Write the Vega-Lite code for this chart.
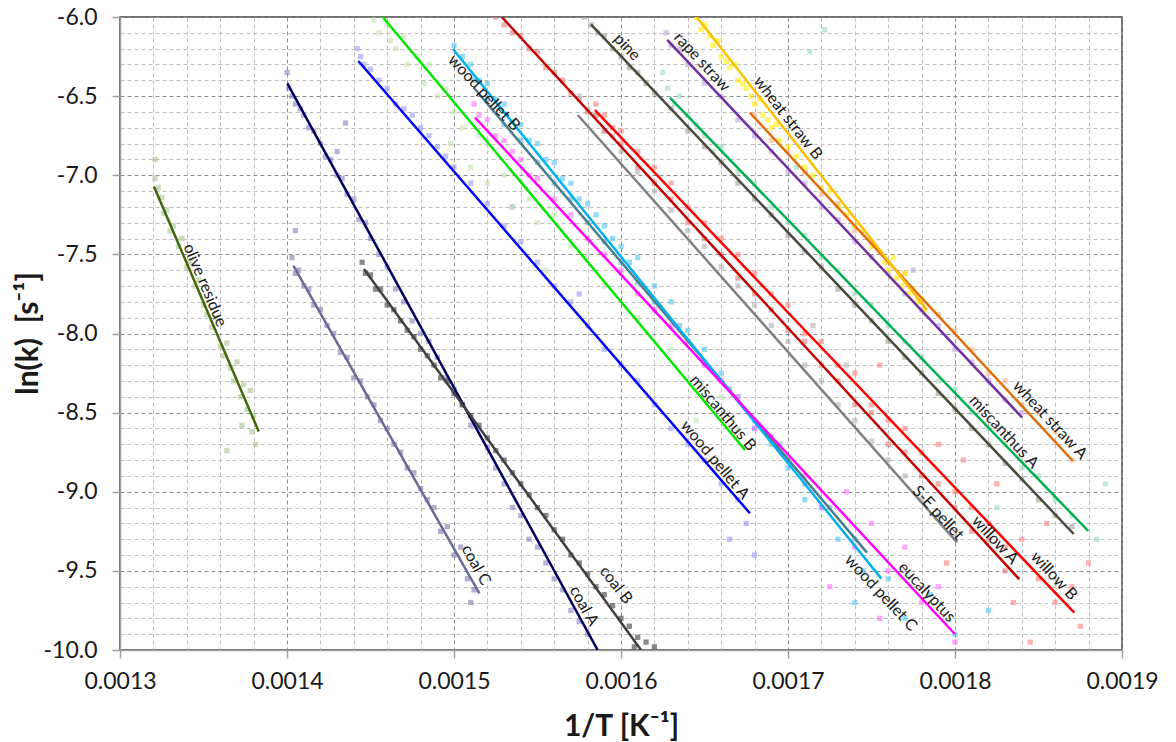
{
"$schema":"https://vega.github.io/schema/vega-lite/v6.json",
"width":1002,"height":633,
"autosize":{"type":"none"},
"padding":{"left":120,"top":17,"right":54,"bottom":92},
"background":"white",
"config":{"view":{"stroke":"#404040","strokeWidth":1.5},"font":"Lato"},
"datasets":{
"lines":[
{"s":"olive residue","x":0.0013204,"y":-7.072},{"s":"olive residue","x":0.0013831,"y":-8.62},
{"s":"coal A","x":0.0014002,"y":-6.419},{"s":"coal A","x":0.001586,"y":-10.0},
{"s":"coal B","x":0.0014461,"y":-7.592},{"s":"coal B","x":0.001612,"y":-10.0},
{"s":"coal C","x":0.0014038,"y":-7.571},{"s":"coal C","x":0.0015152,"y":-9.642},
{"s":"wood pellet A","x":0.0014427,"y":-6.278},{"s":"wood pellet A","x":0.0016772,"y":-9.136},
{"s":"miscanthus B","x":0.0014573,"y":-6.0},{"s":"miscanthus B","x":0.0016743,"y":-8.736},
{"s":"wood pellet B","x":0.001512,"y":-6.449},{"s":"wood pellet B","x":0.0017473,"y":-9.385},
{"s":"wood pellet C","x":0.0014994,"y":-6.202},{"s":"wood pellet C","x":0.0017559,"y":-9.549},
{"s":"eucalyptus","x":0.0015126,"y":-6.636},{"s":"eucalyptus","x":0.0017999,"y":-9.899},
{"s":"willow A","x":0.0015286,"y":-6.0},{"s":"willow A","x":0.0018385,"y":-9.553},
{"s":"willow B","x":0.0015844,"y":-6.588},{"s":"willow B","x":0.0018714,"y":-9.764},
{"s":"S-E pellet","x":0.0015741,"y":-6.619},{"s":"S-E pellet","x":0.0018012,"y":-9.32},
{"s":"pine","x":0.001582,"y":-6.046},{"s":"pine","x":0.0018711,"y":-9.267},
{"s":"miscanthus A","x":0.0016293,"y":-6.51},{"s":"miscanthus A","x":0.0018798,"y":-9.248},
{"s":"rape straw","x":0.0016277,"y":-6.145},{"s":"rape straw","x":0.0018401,"y":-8.53},
{"s":"wheat straw A","x":0.0016772,"y":-6.605},{"s":"wheat straw A","x":0.0018705,"y":-8.804},
{"s":"wheat straw B","x":0.0016453,"y":-6.0},{"s":"wheat straw B","x":0.0017832,"y":-7.852}
],
"labels":[
{"t":"olive residue","x":0.0013509,"y":-7.694},
{"t":"coal C","x":0.0015132,"y":-9.463},
{"t":"coal A","x":0.0015778,"y":-9.722},
{"t":"coal B","x":0.001597,"y":-9.589},
{"t":"wood pellet A","x":0.0016563,"y":-8.799},
{"t":"miscanthus B","x":0.0016611,"y":-8.502},
{"t":"wood pellet B","x":0.001518,"y":-6.48},
{"t":"pine","x":0.0016036,"y":-6.19},
{"t":"rape straw","x":0.0016485,"y":-6.284},
{"t":"wheat straw B","x":0.0017,"y":-6.638},
{"t":"wheat straw A","x":0.0018569,"y":-8.547},
{"t":"miscanthus A","x":0.0018293,"y":-8.622},
{"t":"S-E pellet","x":0.0017898,"y":-9.134},
{"t":"willow A","x":0.001824,"y":-9.305},
{"t":"willow B","x":0.0018593,"y":-9.532},
{"t":"eucalyptus","x":0.0017832,"y":-9.634},
{"t":"wood pellet C","x":0.0017557,"y":-9.64}
],
"pts":[
{"s":"olive residue","x":0.001321,"y":-6.9},{"s":"olive residue","x":0.001321,"y":-7.02},{"s":"olive residue","x":0.001323,"y":-7.08},{"s":"olive residue","x":0.001325,"y":-7.14},{"s":"olive residue","x":0.001326,"y":-7.24},{"s":"olive residue","x":0.001328,"y":-7.22},{"s":"olive residue","x":0.00133,"y":-7.35},{"s":"olive residue","x":0.001332,"y":-7.32},{"s":"olive residue","x":0.001335,"y":-7.45},{"s":"olive residue","x":0.001337,"y":-7.4},{"s":"olive residue","x":0.00134,"y":-7.58},{"s":"olive residue","x":0.001342,"y":-7.55},{"s":"olive residue","x":0.001345,"y":-7.7},{"s":"olive residue","x":0.001347,"y":-7.66},{"s":"olive residue","x":0.00135,"y":-7.82},{"s":"olive residue","x":0.001352,"y":-7.88},{"s":"olive residue","x":0.001355,"y":-7.96},{"s":"olive residue","x":0.001357,"y":-7.9},{"s":"olive residue","x":0.00136,"y":-8.08},{"s":"olive residue","x":0.001362,"y":-8.14},{"s":"olive residue","x":0.001364,"y":-8.06},{"s":"olive residue","x":0.001366,"y":-8.22},{"s":"olive residue","x":0.001368,"y":-8.3},{"s":"olive residue","x":0.00137,"y":-8.18},{"s":"olive residue","x":0.001372,"y":-8.4},{"s":"olive residue","x":0.001374,"y":-8.32},{"s":"olive residue","x":0.001376,"y":-8.48},{"s":"olive residue","x":0.001378,"y":-8.36},{"s":"olive residue","x":0.00138,"y":-8.52},{"s":"olive residue","x":0.001381,"y":-8.7},{"s":"olive residue","x":0.001379,"y":-8.62},{"s":"olive residue","x":0.001373,"y":-8.58},{"s":"olive residue","x":0.001364,"y":-8.74},
{"s":"coal A","x":0.0014,"y":-6.35},{"s":"coal A","x":0.001401,"y":-6.45},{"s":"coal A","x":0.001403,"y":-6.5},{"s":"coal A","x":0.001405,"y":-6.55},{"s":"coal A","x":0.001408,"y":-6.58},{"s":"coal A","x":0.00141,"y":-6.62},{"s":"coal A","x":0.001413,"y":-6.7},{"s":"coal A","x":0.001416,"y":-6.72},{"s":"coal A","x":0.00142,"y":-6.8},{"s":"coal A","x":0.001423,"y":-6.88},{"s":"coal A","x":0.001426,"y":-6.9},{"s":"coal A","x":0.00143,"y":-7.0},{"s":"coal A","x":0.001433,"y":-7.02},{"s":"coal A","x":0.001436,"y":-7.12},{"s":"coal A","x":0.00144,"y":-7.15},{"s":"coal A","x":0.001443,"y":-7.28},{"s":"coal A","x":0.001447,"y":-7.3},{"s":"coal A","x":0.00145,"y":-7.4},{"s":"coal A","x":0.001455,"y":-7.5},{"s":"coal A","x":0.00146,"y":-7.58},{"s":"coal A","x":0.001465,"y":-7.72},{"s":"coal A","x":0.00147,"y":-7.8},{"s":"coal A","x":0.001475,"y":-7.92},{"s":"coal A","x":0.00148,"y":-8.0},{"s":"coal A","x":0.001485,"y":-8.05},{"s":"coal A","x":0.00149,"y":-8.15},{"s":"coal A","x":0.001495,"y":-8.28},{"s":"coal A","x":0.0015,"y":-8.35},{"s":"coal A","x":0.001505,"y":-8.45},{"s":"coal A","x":0.00151,"y":-8.58},{"s":"coal A","x":0.00152,"y":-8.72},{"s":"coal A","x":0.001525,"y":-8.85},{"s":"coal A","x":0.00153,"y":-8.95},{"s":"coal A","x":0.001535,"y":-9.1},{"s":"coal A","x":0.00154,"y":-9.15},{"s":"coal A","x":0.001545,"y":-9.3},{"s":"coal A","x":0.00155,"y":-9.35},{"s":"coal A","x":0.001555,"y":-9.45},{"s":"coal A","x":0.00156,"y":-9.55},{"s":"coal A","x":0.001565,"y":-9.62},{"s":"coal A","x":0.00157,"y":-9.75},{"s":"coal A","x":0.001575,"y":-9.82},{"s":"coal A","x":0.00158,"y":-9.9},{"s":"coal A","x":0.001435,"y":-6.67},{"s":"coal A","x":0.001405,"y":-7.35},{"s":"coal A","x":0.00143,"y":-6.85},
{"s":"coal B","x":0.001445,"y":-7.55},{"s":"coal B","x":0.001447,"y":-7.62},{"s":"coal B","x":0.00145,"y":-7.63},{"s":"coal B","x":0.001453,"y":-7.72},{"s":"coal B","x":0.001456,"y":-7.72},{"s":"coal B","x":0.00146,"y":-7.82},{"s":"coal B","x":0.001464,"y":-7.85},{"s":"coal B","x":0.001468,"y":-7.92},{"s":"coal B","x":0.001472,"y":-7.98},{"s":"coal B","x":0.001476,"y":-8.02},{"s":"coal B","x":0.00148,"y":-8.1},{"s":"coal B","x":0.001484,"y":-8.14},{"s":"coal B","x":0.001488,"y":-8.2},{"s":"coal B","x":0.001492,"y":-8.28},{"s":"coal B","x":0.001496,"y":-8.3},{"s":"coal B","x":0.0015,"y":-8.38},{"s":"coal B","x":0.001505,"y":-8.45},{"s":"coal B","x":0.00151,"y":-8.52},{"s":"coal B","x":0.001515,"y":-8.58},{"s":"coal B","x":0.00152,"y":-8.66},{"s":"coal B","x":0.001525,"y":-8.74},{"s":"coal B","x":0.00153,"y":-8.8},{"s":"coal B","x":0.001535,"y":-8.88},{"s":"coal B","x":0.00154,"y":-8.95},{"s":"coal B","x":0.001545,"y":-9.02},{"s":"coal B","x":0.00155,"y":-9.1},{"s":"coal B","x":0.001555,"y":-9.15},{"s":"coal B","x":0.00156,"y":-9.24},{"s":"coal B","x":0.001565,"y":-9.3},{"s":"coal B","x":0.00157,"y":-9.4},{"s":"coal B","x":0.001575,"y":-9.45},{"s":"coal B","x":0.00158,"y":-9.52},{"s":"coal B","x":0.001585,"y":-9.6},{"s":"coal B","x":0.00159,"y":-9.65},{"s":"coal B","x":0.001595,"y":-9.72},{"s":"coal B","x":0.0016,"y":-9.8},{"s":"coal B","x":0.001605,"y":-9.85},{"s":"coal B","x":0.00161,"y":-9.92},{"s":"coal B","x":0.001615,"y":-9.95},{"s":"coal B","x":0.00162,"y":-9.98},{"s":"coal B","x":0.001608,"y":-9.98},
{"s":"coal C","x":0.001403,"y":-7.52},{"s":"coal C","x":0.001405,"y":-7.62},{"s":"coal C","x":0.001407,"y":-7.6},{"s":"coal C","x":0.00141,"y":-7.7},{"s":"coal C","x":0.001413,"y":-7.72},{"s":"coal C","x":0.001416,"y":-7.82},{"s":"coal C","x":0.00142,"y":-7.85},{"s":"coal C","x":0.001424,"y":-7.95},{"s":"coal C","x":0.001428,"y":-8.0},{"s":"coal C","x":0.001432,"y":-8.12},{"s":"coal C","x":0.001436,"y":-8.15},{"s":"coal C","x":0.00144,"y":-8.28},{"s":"coal C","x":0.001444,"y":-8.3},{"s":"coal C","x":0.001448,"y":-8.4},{"s":"coal C","x":0.001452,"y":-8.45},{"s":"coal C","x":0.001456,"y":-8.55},{"s":"coal C","x":0.00146,"y":-8.6},{"s":"coal C","x":0.001464,"y":-8.7},{"s":"coal C","x":0.001468,"y":-8.75},{"s":"coal C","x":0.001472,"y":-8.85},{"s":"coal C","x":0.001476,"y":-8.88},{"s":"coal C","x":0.00148,"y":-8.98},{"s":"coal C","x":0.001484,"y":-9.05},{"s":"coal C","x":0.001488,"y":-9.1},{"s":"coal C","x":0.001492,"y":-9.25},{"s":"coal C","x":0.001496,"y":-9.22},{"s":"coal C","x":0.0015,"y":-9.4},{"s":"coal C","x":0.001504,"y":-9.35},{"s":"coal C","x":0.001508,"y":-9.55},{"s":"coal C","x":0.001512,"y":-9.62},{"s":"coal C","x":0.00151,"y":-9.7},
{"s":"wood pellet A","x":0.001442,"y":-6.2},{"s":"wood pellet A","x":0.001444,"y":-6.25},{"s":"wood pellet A","x":0.001446,"y":-6.3},{"s":"wood pellet A","x":0.00145,"y":-6.33},{"s":"wood pellet A","x":0.001455,"y":-6.4},{"s":"wood pellet A","x":0.00146,"y":-6.45},{"s":"wood pellet A","x":0.001465,"y":-6.55},{"s":"wood pellet A","x":0.00147,"y":-6.58},{"s":"wood pellet A","x":0.001475,"y":-6.62},{"s":"wood pellet A","x":0.00148,"y":-6.7},{"s":"wood pellet A","x":0.001485,"y":-6.75},{"s":"wood pellet A","x":0.00149,"y":-6.82},{"s":"wood pellet A","x":0.001495,"y":-6.88},{"s":"wood pellet A","x":0.0015,"y":-6.95},{"s":"wood pellet A","x":0.00151,"y":-7.05},{"s":"wood pellet A","x":0.00152,"y":-7.18},{"s":"wood pellet A","x":0.00153,"y":-7.32},{"s":"wood pellet A","x":0.00154,"y":-7.42},{"s":"wood pellet A","x":0.00155,"y":-7.55},{"s":"wood pellet A","x":0.00156,"y":-7.7},{"s":"wood pellet A","x":0.00157,"y":-7.8},{"s":"wood pellet A","x":0.00158,"y":-7.95},{"s":"wood pellet A","x":0.00159,"y":-8.1},{"s":"wood pellet A","x":0.0016,"y":-8.2},{"s":"wood pellet A","x":0.00161,"y":-8.3},{"s":"wood pellet A","x":0.00162,"y":-8.45},{"s":"wood pellet A","x":0.00163,"y":-8.6},{"s":"wood pellet A","x":0.00164,"y":-8.7},{"s":"wood pellet A","x":0.00165,"y":-8.8},{"s":"wood pellet A","x":0.00166,"y":-8.95},{"s":"wood pellet A","x":0.00167,"y":-9.05},{"s":"wood pellet A","x":0.001675,"y":-9.2},{"s":"wood pellet A","x":0.001665,"y":-9.3},{"s":"wood pellet A","x":0.00168,"y":-9.4},{"s":"wood pellet A","x":0.001535,"y":-7.2},{"s":"wood pellet A","x":0.001575,"y":-7.75},
{"s":"miscanthus B","x":0.001452,"y":-6.02},{"s":"miscanthus B","x":0.001455,"y":-6.1},{"s":"miscanthus B","x":0.00146,"y":-6.05},{"s":"miscanthus B","x":0.001462,"y":-6.15},{"s":"miscanthus B","x":0.001465,"y":-6.2},{"s":"miscanthus B","x":0.00147,"y":-6.12},{"s":"miscanthus B","x":0.001472,"y":-6.3},{"s":"miscanthus B","x":0.001478,"y":-6.25},{"s":"miscanthus B","x":0.001482,"y":-6.42},{"s":"miscanthus B","x":0.001485,"y":-6.3},{"s":"miscanthus B","x":0.00149,"y":-6.5},{"s":"miscanthus B","x":0.001495,"y":-6.45},{"s":"miscanthus B","x":0.001498,"y":-6.8},{"s":"miscanthus B","x":0.0015,"y":-6.6},{"s":"miscanthus B","x":0.001505,"y":-6.7},{"s":"miscanthus B","x":0.00151,"y":-6.95},{"s":"miscanthus B","x":0.001515,"y":-6.75},{"s":"miscanthus B","x":0.00152,"y":-7.05},{"s":"miscanthus B","x":0.00153,"y":-7.0},{"s":"miscanthus B","x":0.001535,"y":-7.2},{"s":"miscanthus B","x":0.001545,"y":-7.15},{"s":"miscanthus B","x":0.00155,"y":-7.3},{"s":"miscanthus B","x":0.00156,"y":-7.25},{"s":"miscanthus B","x":0.00157,"y":-7.45},{"s":"miscanthus B","x":0.00158,"y":-7.5},{"s":"miscanthus B","x":0.00159,"y":-7.7},{"s":"miscanthus B","x":0.0016,"y":-7.62},{"s":"miscanthus B","x":0.00161,"y":-7.9},{"s":"miscanthus B","x":0.00162,"y":-7.85},{"s":"miscanthus B","x":0.00163,"y":-8.1},{"s":"miscanthus B","x":0.00164,"y":-8.05},{"s":"miscanthus B","x":0.00165,"y":-8.35},{"s":"miscanthus B","x":0.00166,"y":-8.4},{"s":"miscanthus B","x":0.00167,"y":-8.6},{"s":"miscanthus B","x":0.00168,"y":-8.55},{"s":"miscanthus B","x":0.001645,"y":-8.55},{"s":"miscanthus B","x":0.001555,"y":-7.6},
{"s":"wood pellet B","x":0.001512,"y":-6.4},{"s":"wood pellet B","x":0.00152,"y":-6.52},{"s":"wood pellet B","x":0.00153,"y":-6.68},{"s":"wood pellet B","x":0.00154,"y":-6.78},{"s":"wood pellet B","x":0.00155,"y":-6.92},{"s":"wood pellet B","x":0.00156,"y":-7.05},{"s":"wood pellet B","x":0.00157,"y":-7.15},{"s":"wood pellet B","x":0.00158,"y":-7.3},{"s":"wood pellet B","x":0.00159,"y":-7.42},{"s":"wood pellet B","x":0.0016,"y":-7.55},{"s":"wood pellet B","x":0.00161,"y":-7.68},{"s":"wood pellet B","x":0.00162,"y":-7.8},{"s":"wood pellet B","x":0.001635,"y":-7.95},{"s":"wood pellet B","x":0.00165,"y":-8.18},{"s":"wood pellet B","x":0.001665,"y":-8.35},{"s":"wood pellet B","x":0.00168,"y":-8.55},{"s":"wood pellet B","x":0.001695,"y":-8.7},{"s":"wood pellet B","x":0.00171,"y":-8.95},{"s":"wood pellet B","x":0.001725,"y":-9.1},{"s":"wood pellet B","x":0.00174,"y":-9.3},
{"s":"wood pellet C","x":0.0015,"y":-6.18},{"s":"wood pellet C","x":0.001505,"y":-6.25},{"s":"wood pellet C","x":0.00151,"y":-6.3},{"s":"wood pellet C","x":0.001515,"y":-6.4},{"s":"wood pellet C","x":0.00152,"y":-6.42},{"s":"wood pellet C","x":0.001525,"y":-6.52},{"s":"wood pellet C","x":0.00153,"y":-6.55},{"s":"wood pellet C","x":0.001535,"y":-6.66},{"s":"wood pellet C","x":0.00154,"y":-6.68},{"s":"wood pellet C","x":0.001545,"y":-6.78},{"s":"wood pellet C","x":0.00155,"y":-6.8},{"s":"wood pellet C","x":0.001555,"y":-6.9},{"s":"wood pellet C","x":0.00156,"y":-6.92},{"s":"wood pellet C","x":0.001565,"y":-7.02},{"s":"wood pellet C","x":0.00157,"y":-7.05},{"s":"wood pellet C","x":0.001575,"y":-7.15},{"s":"wood pellet C","x":0.00158,"y":-7.18},{"s":"wood pellet C","x":0.001585,"y":-7.25},{"s":"wood pellet C","x":0.00159,"y":-7.32},{"s":"wood pellet C","x":0.001595,"y":-7.4},{"s":"wood pellet C","x":0.0016,"y":-7.45},{"s":"wood pellet C","x":0.001605,"y":-7.55},{"s":"wood pellet C","x":0.00161,"y":-7.52},{"s":"wood pellet C","x":0.00162,"y":-7.7},{"s":"wood pellet C","x":0.00163,"y":-7.8},{"s":"wood pellet C","x":0.00164,"y":-7.98},{"s":"wood pellet C","x":0.00165,"y":-8.1},{"s":"wood pellet C","x":0.00166,"y":-8.25},{"s":"wood pellet C","x":0.00167,"y":-8.4},{"s":"wood pellet C","x":0.00168,"y":-8.6},{"s":"wood pellet C","x":0.00169,"y":-8.7},{"s":"wood pellet C","x":0.0017,"y":-8.85},{"s":"wood pellet C","x":0.00171,"y":-9.05},{"s":"wood pellet C","x":0.00172,"y":-9.1},{"s":"wood pellet C","x":0.00173,"y":-9.3},{"s":"wood pellet C","x":0.001745,"y":-9.5},{"s":"wood pellet C","x":0.00176,"y":-9.55},{"s":"wood pellet C","x":0.00177,"y":-9.8},{"s":"wood pellet C","x":0.001785,"y":-9.65},{"s":"wood pellet C","x":0.0018,"y":-9.9},{"s":"wood pellet C","x":0.00182,"y":-9.75},{"s":"wood pellet C","x":0.00174,"y":-9.7},
{"s":"eucalyptus","x":0.001512,"y":-6.55},{"s":"eucalyptus","x":0.001515,"y":-6.62},{"s":"eucalyptus","x":0.00152,"y":-6.65},{"s":"eucalyptus","x":0.001525,"y":-6.75},{"s":"eucalyptus","x":0.00153,"y":-6.78},{"s":"eucalyptus","x":0.001535,"y":-6.85},{"s":"eucalyptus","x":0.00154,"y":-6.9},{"s":"eucalyptus","x":0.001545,"y":-7.0},{"s":"eucalyptus","x":0.00155,"y":-7.02},{"s":"eucalyptus","x":0.00156,"y":-7.15},{"s":"eucalyptus","x":0.00157,"y":-7.25},{"s":"eucalyptus","x":0.00158,"y":-7.4},{"s":"eucalyptus","x":0.00159,"y":-7.5},{"s":"eucalyptus","x":0.0016,"y":-7.6},{"s":"eucalyptus","x":0.00161,"y":-7.75},{"s":"eucalyptus","x":0.00162,"y":-7.85},{"s":"eucalyptus","x":0.00163,"y":-7.95},{"s":"eucalyptus","x":0.00164,"y":-8.05},{"s":"eucalyptus","x":0.00165,"y":-8.2},{"s":"eucalyptus","x":0.00166,"y":-8.3},{"s":"eucalyptus","x":0.00167,"y":-8.4},{"s":"eucalyptus","x":0.00168,"y":-8.6},{"s":"eucalyptus","x":0.00169,"y":-8.65},{"s":"eucalyptus","x":0.0017,"y":-8.8},{"s":"eucalyptus","x":0.00171,"y":-8.9},{"s":"eucalyptus","x":0.00172,"y":-9.1},{"s":"eucalyptus","x":0.001735,"y":-9.0},{"s":"eucalyptus","x":0.00174,"y":-9.35},{"s":"eucalyptus","x":0.00175,"y":-9.2},{"s":"eucalyptus","x":0.00176,"y":-9.5},{"s":"eucalyptus","x":0.00177,"y":-9.35},{"s":"eucalyptus","x":0.00178,"y":-9.7},{"s":"eucalyptus","x":0.00179,"y":-9.6},{"s":"eucalyptus","x":0.0018,"y":-9.95},{"s":"eucalyptus","x":0.001755,"y":-9.8},{"s":"eucalyptus","x":0.001725,"y":-9.6},
{"s":"willow A","x":0.001525,"y":-6.0},{"s":"willow A","x":0.00153,"y":-6.05},{"s":"willow A","x":0.001535,"y":-6.1},{"s":"willow A","x":0.00154,"y":-6.12},{"s":"willow A","x":0.001545,"y":-6.2},{"s":"willow A","x":0.00155,"y":-6.22},{"s":"willow A","x":0.001555,"y":-6.32},{"s":"willow A","x":0.00156,"y":-6.35},{"s":"willow A","x":0.001565,"y":-6.4},{"s":"willow A","x":0.00157,"y":-6.48},{"s":"willow A","x":0.001575,"y":-6.52},{"s":"willow A","x":0.00158,"y":-6.6},{"s":"willow A","x":0.001585,"y":-6.62},{"s":"willow A","x":0.00159,"y":-6.72},{"s":"willow A","x":0.0016,"y":-6.8},{"s":"willow A","x":0.00161,"y":-6.95},{"s":"willow A","x":0.00162,"y":-7.05},{"s":"willow A","x":0.00163,"y":-7.15},{"s":"willow A","x":0.00164,"y":-7.3},{"s":"willow A","x":0.00165,"y":-7.4},{"s":"willow A","x":0.00166,"y":-7.5},{"s":"willow A","x":0.00167,"y":-7.65},{"s":"willow A","x":0.00168,"y":-7.75},{"s":"willow A","x":0.00169,"y":-7.85},{"s":"willow A","x":0.0017,"y":-7.98},{"s":"willow A","x":0.00171,"y":-8.05},{"s":"willow A","x":0.00172,"y":-8.2},{"s":"willow A","x":0.00173,"y":-8.3},{"s":"willow A","x":0.00174,"y":-8.45},{"s":"willow A","x":0.00175,"y":-8.5},{"s":"willow A","x":0.00176,"y":-8.7},{"s":"willow A","x":0.00177,"y":-8.75},{"s":"willow A","x":0.00178,"y":-8.9},{"s":"willow A","x":0.00179,"y":-8.95},{"s":"willow A","x":0.0018,"y":-9.1},{"s":"willow A","x":0.00181,"y":-9.25},{"s":"willow A","x":0.00182,"y":-9.3},{"s":"willow A","x":0.00183,"y":-9.5},
{"s":"willow B","x":0.001585,"y":-6.55},{"s":"willow B","x":0.00159,"y":-6.62},{"s":"willow B","x":0.001595,"y":-6.7},{"s":"willow B","x":0.0016,"y":-6.72},{"s":"willow B","x":0.00161,"y":-6.85},{"s":"willow B","x":0.00162,"y":-6.95},{"s":"willow B","x":0.00163,"y":-7.05},{"s":"willow B","x":0.00164,"y":-7.2},{"s":"willow B","x":0.00165,"y":-7.3},{"s":"willow B","x":0.00166,"y":-7.4},{"s":"willow B","x":0.00167,"y":-7.5},{"s":"willow B","x":0.00168,"y":-7.62},{"s":"willow B","x":0.00169,"y":-7.75},{"s":"willow B","x":0.0017,"y":-7.82},{"s":"willow B","x":0.00171,"y":-8.0},{"s":"willow B","x":0.00172,"y":-8.05},{"s":"willow B","x":0.00173,"y":-8.2},{"s":"willow B","x":0.00174,"y":-8.25},{"s":"willow B","x":0.00175,"y":-8.45},{"s":"willow B","x":0.001755,"y":-8.2},{"s":"willow B","x":0.00176,"y":-8.55},{"s":"willow B","x":0.00177,"y":-8.6},{"s":"willow B","x":0.00178,"y":-8.75},{"s":"willow B","x":0.00179,"y":-8.7},{"s":"willow B","x":0.0018,"y":-9.0},{"s":"willow B","x":0.001805,"y":-8.8},{"s":"willow B","x":0.00181,"y":-9.1},{"s":"willow B","x":0.00182,"y":-9.2},{"s":"willow B","x":0.001825,"y":-8.95},{"s":"willow B","x":0.00183,"y":-9.35},{"s":"willow B","x":0.00184,"y":-9.3},{"s":"willow B","x":0.00185,"y":-9.55},{"s":"willow B","x":0.001855,"y":-9.2},{"s":"willow B","x":0.00186,"y":-9.7},{"s":"willow B","x":0.00187,"y":-9.6},{"s":"willow B","x":0.001875,"y":-9.85},{"s":"willow B","x":0.001835,"y":-9.7},{"s":"willow B","x":0.00188,"y":-9.45},{"s":"willow B","x":0.001795,"y":-9.45},{"s":"willow B","x":0.001845,"y":-9.95},
{"s":"S-E pellet","x":0.001575,"y":-6.5},{"s":"S-E pellet","x":0.00158,"y":-6.58},{"s":"S-E pellet","x":0.001585,"y":-6.62},{"s":"S-E pellet","x":0.00159,"y":-6.72},{"s":"S-E pellet","x":0.001595,"y":-6.75},{"s":"S-E pellet","x":0.0016,"y":-6.85},{"s":"S-E pellet","x":0.00161,"y":-6.98},{"s":"S-E pellet","x":0.00162,"y":-7.1},{"s":"S-E pellet","x":0.00163,"y":-7.22},{"s":"S-E pellet","x":0.00164,"y":-7.35},{"s":"S-E pellet","x":0.00165,"y":-7.45},{"s":"S-E pellet","x":0.00166,"y":-7.58},{"s":"S-E pellet","x":0.00167,"y":-7.7},{"s":"S-E pellet","x":0.00168,"y":-7.82},{"s":"S-E pellet","x":0.00169,"y":-7.95},{"s":"S-E pellet","x":0.0017,"y":-8.05},{"s":"S-E pellet","x":0.00171,"y":-8.2},{"s":"S-E pellet","x":0.00172,"y":-8.3},{"s":"S-E pellet","x":0.00173,"y":-8.45},{"s":"S-E pellet","x":0.00174,"y":-8.55},{"s":"S-E pellet","x":0.00175,"y":-8.68},{"s":"S-E pellet","x":0.00176,"y":-8.8},{"s":"S-E pellet","x":0.00177,"y":-8.9},{"s":"S-E pellet","x":0.00178,"y":-9.05},{"s":"S-E pellet","x":0.00179,"y":-9.15},{"s":"S-E pellet","x":0.0018,"y":-9.28},{"s":"S-E pellet","x":0.001715,"y":-7.95},{"s":"S-E pellet","x":0.001735,"y":-8.2},
{"s":"pine","x":0.001578,"y":-6.0},{"s":"pine","x":0.001582,"y":-6.05},{"s":"pine","x":0.001586,"y":-6.1},{"s":"pine","x":0.00159,"y":-6.12},{"s":"pine","x":0.001595,"y":-6.2},{"s":"pine","x":0.0016,"y":-6.25},{"s":"pine","x":0.001605,"y":-6.32},{"s":"pine","x":0.00161,"y":-6.35},{"s":"pine","x":0.001615,"y":-6.42},{"s":"pine","x":0.00162,"y":-6.48},{"s":"pine","x":0.00163,"y":-6.58},{"s":"pine","x":0.00164,"y":-6.72},{"s":"pine","x":0.00165,"y":-6.82},{"s":"pine","x":0.00166,"y":-6.92},{"s":"pine","x":0.00167,"y":-7.05},{"s":"pine","x":0.00168,"y":-7.15},{"s":"pine","x":0.00169,"y":-7.25},{"s":"pine","x":0.0017,"y":-7.38},{"s":"pine","x":0.00171,"y":-7.48},{"s":"pine","x":0.00172,"y":-7.58},{"s":"pine","x":0.00173,"y":-7.72},{"s":"pine","x":0.00174,"y":-7.82},{"s":"pine","x":0.00175,"y":-7.92},{"s":"pine","x":0.00176,"y":-8.05},{"s":"pine","x":0.00177,"y":-8.15},{"s":"pine","x":0.00178,"y":-8.25},{"s":"pine","x":0.00179,"y":-8.38},{"s":"pine","x":0.0018,"y":-8.48},{"s":"pine","x":0.00181,"y":-8.6},{"s":"pine","x":0.00182,"y":-8.7},{"s":"pine","x":0.00183,"y":-8.82},{"s":"pine","x":0.00184,"y":-8.92},{"s":"pine","x":0.00185,"y":-9.05},{"s":"pine","x":0.00186,"y":-9.15},{"s":"pine","x":0.00187,"y":-9.22},
{"s":"miscanthus A","x":0.001625,"y":-6.35},{"s":"miscanthus A","x":0.001628,"y":-6.45},{"s":"miscanthus A","x":0.001632,"y":-6.55},{"s":"miscanthus A","x":0.001635,"y":-6.5},{"s":"miscanthus A","x":0.00164,"y":-6.62},{"s":"miscanthus A","x":0.001645,"y":-6.68},{"s":"miscanthus A","x":0.00165,"y":-6.75},{"s":"miscanthus A","x":0.001655,"y":-6.85},{"s":"miscanthus A","x":0.00166,"y":-6.82},{"s":"miscanthus A","x":0.00167,"y":-6.98},{"s":"miscanthus A","x":0.00168,"y":-7.05},{"s":"miscanthus A","x":0.00169,"y":-7.2},{"s":"miscanthus A","x":0.0017,"y":-7.3},{"s":"miscanthus A","x":0.00171,"y":-7.38},{"s":"miscanthus A","x":0.00172,"y":-7.52},{"s":"miscanthus A","x":0.00173,"y":-7.6},{"s":"miscanthus A","x":0.00174,"y":-7.75},{"s":"miscanthus A","x":0.00175,"y":-7.82},{"s":"miscanthus A","x":0.00176,"y":-7.95},{"s":"miscanthus A","x":0.00177,"y":-8.05},{"s":"miscanthus A","x":0.00178,"y":-8.15},{"s":"miscanthus A","x":0.00179,"y":-8.3},{"s":"miscanthus A","x":0.0018,"y":-8.35},{"s":"miscanthus A","x":0.00181,"y":-8.5},{"s":"miscanthus A","x":0.00182,"y":-8.6},{"s":"miscanthus A","x":0.00183,"y":-8.7},{"s":"miscanthus A","x":0.00184,"y":-8.85},{"s":"miscanthus A","x":0.00185,"y":-8.9},{"s":"miscanthus A","x":0.00186,"y":-9.05},{"s":"miscanthus A","x":0.00187,"y":-9.15},{"s":"miscanthus A","x":0.001885,"y":-9.3},{"s":"miscanthus A","x":0.00189,"y":-8.95},{"s":"miscanthus A","x":0.001705,"y":-6.95},{"s":"miscanthus A","x":0.001825,"y":-9.1},{"s":"miscanthus A","x":0.001713,"y":-6.22},{"s":"miscanthus A","x":0.001722,"y":-6.08},
{"s":"rape straw","x":0.001627,"y":-6.1},{"s":"rape straw","x":0.00163,"y":-6.18},{"s":"rape straw","x":0.001635,"y":-6.2},{"s":"rape straw","x":0.00164,"y":-6.3},{"s":"rape straw","x":0.00165,"y":-6.42},{"s":"rape straw","x":0.00166,"y":-6.5},{"s":"rape straw","x":0.00167,"y":-6.65},{"s":"rape straw","x":0.00168,"y":-6.75},{"s":"rape straw","x":0.00169,"y":-6.85},{"s":"rape straw","x":0.0017,"y":-6.98},{"s":"rape straw","x":0.00171,"y":-7.05},{"s":"rape straw","x":0.00172,"y":-7.2},{"s":"rape straw","x":0.00173,"y":-7.28},{"s":"rape straw","x":0.00174,"y":-7.42},{"s":"rape straw","x":0.00175,"y":-7.52},{"s":"rape straw","x":0.00176,"y":-7.62},{"s":"rape straw","x":0.00177,"y":-7.75},{"s":"rape straw","x":0.00178,"y":-7.85},{"s":"rape straw","x":0.00179,"y":-7.95},{"s":"rape straw","x":0.0018,"y":-8.1},{"s":"rape straw","x":0.00181,"y":-8.18},{"s":"rape straw","x":0.00182,"y":-8.3},{"s":"rape straw","x":0.00183,"y":-8.42},{"s":"rape straw","x":0.00184,"y":-8.5},{"s":"rape straw","x":0.001775,"y":-7.6},
{"s":"wheat straw A","x":0.00168,"y":-6.62},{"s":"wheat straw A","x":0.00169,"y":-6.78},{"s":"wheat straw A","x":0.0017,"y":-6.85},{"s":"wheat straw A","x":0.00171,"y":-6.98},{"s":"wheat straw A","x":0.00172,"y":-7.12},{"s":"wheat straw A","x":0.00173,"y":-7.18},{"s":"wheat straw A","x":0.00174,"y":-7.35},{"s":"wheat straw A","x":0.00175,"y":-7.42},{"s":"wheat straw A","x":0.00176,"y":-7.55},{"s":"wheat straw A","x":0.00177,"y":-7.62},{"s":"wheat straw A","x":0.00178,"y":-7.8},{"s":"wheat straw A","x":0.00179,"y":-7.88},{"s":"wheat straw A","x":0.0018,"y":-7.98},{"s":"wheat straw A","x":0.00181,"y":-8.1},{"s":"wheat straw A","x":0.00182,"y":-8.25},{"s":"wheat straw A","x":0.00183,"y":-8.3},{"s":"wheat straw A","x":0.00184,"y":-8.45},{"s":"wheat straw A","x":0.00185,"y":-8.5},{"s":"wheat straw A","x":0.00186,"y":-8.62},{"s":"wheat straw A","x":0.00187,"y":-8.8},
{"s":"wheat straw B","x":0.001645,"y":-6.0},{"s":"wheat straw B","x":0.001648,"y":-6.08},{"s":"wheat straw B","x":0.00165,"y":-6.05},{"s":"wheat straw B","x":0.001653,"y":-6.12},{"s":"wheat straw B","x":0.001655,"y":-6.18},{"s":"wheat straw B","x":0.001658,"y":-6.15},{"s":"wheat straw B","x":0.00166,"y":-6.25},{"s":"wheat straw B","x":0.001663,"y":-6.28},{"s":"wheat straw B","x":0.001665,"y":-6.32},{"s":"wheat straw B","x":0.001668,"y":-6.3},{"s":"wheat straw B","x":0.00167,"y":-6.4},{"s":"wheat straw B","x":0.001673,"y":-6.42},{"s":"wheat straw B","x":0.001675,"y":-6.45},{"s":"wheat straw B","x":0.001678,"y":-6.5},{"s":"wheat straw B","x":0.00168,"y":-6.55},{"s":"wheat straw B","x":0.001683,"y":-6.52},{"s":"wheat straw B","x":0.001685,"y":-6.62},{"s":"wheat straw B","x":0.001688,"y":-6.65},{"s":"wheat straw B","x":0.00169,"y":-6.7},{"s":"wheat straw B","x":0.001693,"y":-6.68},{"s":"wheat straw B","x":0.001695,"y":-6.78},{"s":"wheat straw B","x":0.0017,"y":-6.82},{"s":"wheat straw B","x":0.001705,"y":-6.88},{"s":"wheat straw B","x":0.00171,"y":-6.95},{"s":"wheat straw B","x":0.001715,"y":-7.0},{"s":"wheat straw B","x":0.00172,"y":-7.08},{"s":"wheat straw B","x":0.001725,"y":-7.1},{"s":"wheat straw B","x":0.00173,"y":-7.2},{"s":"wheat straw B","x":0.001735,"y":-7.25},{"s":"wheat straw B","x":0.00174,"y":-7.32},{"s":"wheat straw B","x":0.001745,"y":-7.35},{"s":"wheat straw B","x":0.00175,"y":-7.45},{"s":"wheat straw B","x":0.001755,"y":-7.48},{"s":"wheat straw B","x":0.001758,"y":-7.55},{"s":"wheat straw B","x":0.00176,"y":-7.6},{"s":"wheat straw B","x":0.001763,"y":-7.52},{"s":"wheat straw B","x":0.001765,"y":-7.65},{"s":"wheat straw B","x":0.001768,"y":-7.7},{"s":"wheat straw B","x":0.00177,"y":-7.62},{"s":"wheat straw B","x":0.001772,"y":-7.75},{"s":"wheat straw B","x":0.001775,"y":-7.72},{"s":"wheat straw B","x":0.001778,"y":-7.8},{"s":"wheat straw B","x":0.00178,"y":-7.78},{"s":"wheat straw B","x":0.001782,"y":-7.85}
]
},
"encoding":{
"x":{"field":"x","type":"quantitative","scale":{"domain":[0.0013,0.0019],"nice":false,"zero":false},
 "axis":{"title":"1/T [K⁻¹]","titleFont":"Lato","titleFontSize":30,"titleFontWeight":"bold","titleColor":"#1a1a1a","titleBaseline":"alphabetic","titleY":85,
 "values":[0.0013,0.00132,0.00134,0.00136,0.00138,0.0014,0.00142,0.00144,0.00146,0.00148,0.0015,0.00152,0.00154,0.00156,0.00158,0.0016,0.00162,0.00164,0.00166,0.00168,0.0017,0.00172,0.00174,0.00176,0.00178,0.0018,0.00182,0.00184,0.00186,0.00188,0.0019],
 "labelExpr":"abs(datum.value*10000 - round(datum.value*10000)) < 0.001 ? format(datum.value, '.4f') : ''",
 "labelFont":"Lato","labelFontSize":23,"labelColor":"#1a1a1a","labelPadding":12,"labelFlush":false,"labelOverlap":false,
 "domainColor":"#a0a0a0","domainWidth":1.5,"tickColor":"#a0a0a0","tickSize":8,"tickWidth":1.5,
 "tickOpacity":{"condition":{"test":"abs(datum.value*10000 - round(datum.value*10000)) < 0.001","value":1},"value":0},
 "grid":true,"gridDash":[4,3],"gridWidth":1,
 "gridColor":{"condition":{"test":"abs(datum.value*10000 - round(datum.value*10000)) < 0.001","value":"#8f8f8f"},"value":"#bdbdbd"}}},
"y":{"field":"y","type":"quantitative","scale":{"domain":[-10,-6],"nice":false,"zero":false},
 "axis":{"title":"ln(k)\u00a0\u00a0[s⁻¹]","titleFont":"Lato","titleFontSize":30,"titleFontWeight":"bold","titleColor":"#1a1a1a","titleBaseline":"alphabetic","titleX":-83,"titleY":316,
 "values":[-10,-9.9,-9.8,-9.7,-9.6,-9.5,-9.4,-9.3,-9.2,-9.1,-9,-8.9,-8.8,-8.7,-8.6,-8.5,-8.4,-8.3,-8.2,-8.1,-8,-7.9,-7.8,-7.7,-7.6,-7.5,-7.4,-7.3,-7.2,-7.1,-7,-6.9,-6.8,-6.7,-6.6,-6.5,-6.4,-6.3,-6.2,-6.1,-6],
 "labelExpr":"abs(datum.value*2 - round(datum.value*2)) < 0.001 ? replace(format(datum.value, '.1f'), '−', '-') : ''",
 "labelFont":"Lato","labelFontSize":23,"labelColor":"#1a1a1a","labelPadding":15,"labelOverlap":false,"labelFlush":false,
 "domainColor":"#a0a0a0","domainWidth":1.5,"tickColor":"#a0a0a0","tickSize":8,"tickWidth":1.5,
 "tickOpacity":{"condition":{"test":"abs(datum.value*2 - round(datum.value*2)) < 0.001","value":1},"value":0},
 "grid":true,"gridDash":[4,3],"gridWidth":1,
 "gridColor":{"condition":{"test":"abs(datum.value*2 - round(datum.value*2)) < 0.001","value":"#8f8f8f"},"value":"#bdbdbd"}}}
},
"layer":[
{"data":{"name":"pts"},"mark":{"type":"square","size":28,"opacity":0.6,"clip":true},
 "encoding":{"color":{"field":"s","type":"nominal","legend":null,
  "scale":{"domain":["olive residue","coal A","coal B","coal C","wood pellet A","miscanthus B","wood pellet B","wood pellet C","eucalyptus","willow A","willow B","S-E pellet","pine","miscanthus A","rape straw","wheat straw A","wheat straw B"],
  "range":["#a8c490","#8484c0","#3a3a3a","#7c7caa","#9a9aff","#c4e2b0","#6ab4d2","#50c4f2","#ff70ff","#e87878","#ff8080","#b0b0b0","#a0a098","#9ed8c0","#c0a4e2","#f4b48c","#ffee00"]}}}},
{"data":{"name":"lines"},"mark":{"type":"line","strokeWidth":2.5,"clip":true},
 "encoding":{"detail":{"field":"s"},"color":{"field":"s","type":"nominal","legend":null,
  "scale":{"domain":["olive residue","coal A","coal B","coal C","wood pellet A","miscanthus B","wood pellet B","wood pellet C","eucalyptus","willow A","willow B","S-E pellet","pine","miscanthus A","rape straw","wheat straw A","wheat straw B"],
  "range":["#40680a","#000060","#404040","#6b6b99","#0000ff","#00e600","#4a7e8e","#00b0f0","#ff00ff","#c00000","#ff0000","#808080","#4a4a3a","#00b050","#7030a0","#e36c0a","#ffc000"]}}}},
{"data":{"name":"labels"},"transform":[{"filter":{"field":"t","oneOf":["olive residue"]}}],
 "mark":{"type":"text","angle":67,"font":"Lato","fontSize":16,"color":"#1a1a1a","align":"center","baseline":"middle"},"encoding":{"text":{"field":"t"}}},
{"data":{"name":"labels"},"transform":[{"filter":{"field":"t","oneOf":["coal A","coal C"]}}],
 "mark":{"type":"text","angle":61,"font":"Lato","fontSize":16,"color":"#1a1a1a","align":"center","baseline":"middle"},"encoding":{"text":{"field":"t"}}},
{"data":{"name":"labels"},"transform":[{"filter":{"field":"t","oneOf":["coal B","wheat straw B"]}}],
 "mark":{"type":"text","angle":52,"font":"Lato","fontSize":16,"color":"#1a1a1a","align":"center","baseline":"middle"},"encoding":{"text":{"field":"t"}}},
{"data":{"name":"labels"},"transform":[{"filter":{"field":"t","oneOf":["wood pellet A","miscanthus B"]}}],
 "mark":{"type":"text","angle":50,"font":"Lato","fontSize":16,"color":"#1a1a1a","align":"center","baseline":"middle"},"encoding":{"text":{"field":"t"}}},
{"data":{"name":"labels"},"transform":[{"filter":{"field":"t","oneOf":["wood pellet B","wood pellet C","eucalyptus","willow A","willow B","S-E pellet","pine","miscanthus A","rape straw","wheat straw A"]}}],
 "mark":{"type":"text","angle":47,"font":"Lato","fontSize":16,"color":"#1a1a1a","align":"center","baseline":"middle"},"encoding":{"text":{"field":"t"}}}
],
"resolve":{"scale":{"color":"independent"}}
}
